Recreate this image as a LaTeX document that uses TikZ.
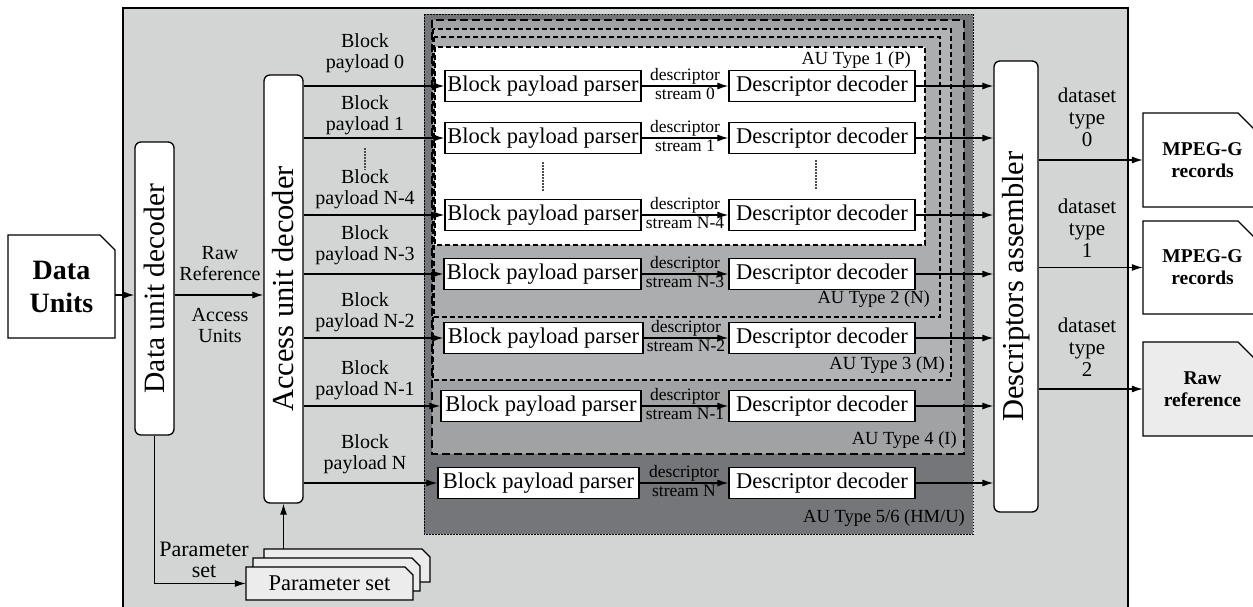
\documentclass[tikz,border=0pt]{standalone}
\usepackage{fontspec}
\setmainfont{Liberation Serif}
\usetikzlibrary{arrows.meta,calc}
\definecolor{bgout}{HTML}{D3D4D4}
\definecolor{aufive}{HTML}{74767A}
\definecolor{aufour}{HTML}{A1A2A3}
\definecolor{authree}{HTML}{B2B3B4}
\definecolor{autwo}{HTML}{ACADAE}
\definecolor{docgray}{HTML}{ECECEC}
\tikzset{
  arr/.style={-{Latex[length=11pt,width=7pt]}, line width=1.2pt},
  bigbox/.style={draw, fill=white, rounded corners=6pt, line width=1.3pt, inner sep=0pt},
  pbox/.style={draw, fill=white, line width=1.3pt, minimum height=31pt, inner sep=0pt, font=\fontsize{22.5}{24}\selectfont},
  lbl/.style={align=center, font=\fontsize{20}{21}\selectfont, inner sep=0pt},
  dslbl/.style={align=center, font=\fontsize{21}{22}\selectfont, inner sep=0pt},
  sm/.style={font=\fontsize{17.5}{18}\selectfont, inner sep=1.5pt},
  aulbl/.style={font=\fontsize{18.5}{19}\selectfont, anchor=east, inner sep=0pt},
  dotsline/.style={line width=1.6pt, dash pattern=on 1.5pt off 1.5pt, black!70},
}
\newcommand\docnode[9]{%
  \draw[line width=1.3pt, fill=#8] (#3,#4) -- ({#5-#7},#4) -- (#5,{#4+#7}) -- (#5,#6) -- (#3,#6) -- cycle;
  \node[#1, minimum width={#5-#3}, minimum height={#6-#4}, inner sep=0pt, align=center] (#2) at ({(#3+#5)/2},{(#4+#6)/2}) {#9};}
\begin{document}
\begin{tikzpicture}[x=1pt,y=-1pt]
\useasboundingbox (0,0) rectangle (1253,606);
% outer box
\draw[fill=bgout, line width=1.3pt] (123,8) rectangle (1128,620);
% AU containers
\draw[fill=aufive, line width=1pt, dash pattern=on 1.5pt off 1.5pt] (424,14) rectangle (973,534);
\draw[fill=aufour, line width=1.2pt, dash pattern=on 8pt off 4pt] (432,20) rectangle (964,454);
\draw[fill=authree, line width=1.1pt, dash pattern=on 5pt off 3pt] (433,29) rectangle (951,380);
\draw[fill=autwo, line width=1.1pt, dash pattern=on 5pt off 3pt] (434,37) rectangle (940,317);
\draw[fill=white, line width=1.1pt, dash pattern=on 5pt off 3pt] (435,47) rectangle (925,245);
\node[aulbl] (l1) at (911,60) {AU Type 1 (P)};
\node[aulbl] (l2) at (930,299) {AU Type 2 (N)};
\node[aulbl] (l3) at (945,365) {AU Type 3 (M)};
\node[aulbl] (l4) at (957,440) {AU Type 4 (I)};
\node[aulbl] (l5) at (965,518) {AU Type 5/6 (HM/U)};
% documents
\docnode{font=\fontsize{28}{33}\selectfont\bfseries}{du}{8}{235}{115}{338}{15}{white}{Data\\Units}
\docnode{font=\fontsize{19.5}{22}\selectfont\bfseries}{m0}{1143}{113}{1262}{207}{24}{white}{MPEG-G\\records}
\docnode{font=\fontsize{19.5}{22}\selectfont\bfseries}{m1}{1143}{221}{1262}{314}{24}{white}{MPEG-G\\records}
\docnode{font=\fontsize{19.5}{22}\selectfont\bfseries}{m2}{1143}{342}{1262}{436}{24}{docgray}{Raw\\reference}
% parameter sets
\docnode{}{ps1}{264}{549}{430}{582}{8}{docgray}{}
\docnode{}{ps2}{253}{558}{420}{591}{8}{docgray}{}
\docnode{font=\fontsize{22.5}{24}\selectfont}{ps3}{246}{567}{413}{600}{8}{docgray}{Parameter set}
% decoders
\node[bigbox, minimum width=39pt, minimum height=293pt] (dud) at (154.5,288.5) {\fontsize{29.5}{30}\selectfont\rotatebox{90}{Data unit decoder}};
\node[bigbox, minimum width=39pt, minimum height=428pt] (aud) at (283.5,289) {\fontsize{30.5}{31}\selectfont\rotatebox{90}{Access unit decoder}};
\node[bigbox, minimum width=44pt, minimum height=451pt] (das) at (1016,286.5) {\fontsize{30.5}{31}\selectfont\rotatebox{90}{Descriptors assembler}};
% left connectors
\coordinate (ra) at (0,295);
\draw[arr] (du.east |- ra) -- (dud.west |- ra);
\draw[arr] (dud.east |- ra) -- (aud.west |- ra);
\node[lbl] (rawlbl) at (220,264) {Raw\\Reference};
\node[lbl] (aulb) at (220,325) {Access\\Units};
\draw[arr] (dud.south) |- (ps3.west);
\node[lbl, font=\fontsize{22}{21}\selectfont] (pslbl) at (204,560) {Parameter\\set};
\draw[arr] (aud.south |- ps1.north) -- (aud.south);
% rows
\foreach \i/\y/\px/\pw/\s in {0/86/543/196/0, 1/138/543/196/1, 2/215/543/196/N-4, 3/274/542.5/197/N-3, 4/338/543.5/199/N-2, 5/406/541/200/N-1, 6/483/538.5/201/N}{
  \node[pbox, minimum width=\pw pt] (p\i) at (\px,\y) {Block payload parser};
  \node[pbox, minimum width=186pt] (d\i) at (822,\y) {Descriptor decoder};
  \draw[arr] (aud.east |- p\i.west) -- (p\i.west);
  \draw[arr] (p\i.east) -- node[sm, above]{descriptor} node[sm, below]{stream \s} (d\i.west);
  \draw[arr] (d\i.east) -- (das.west |- d\i.east);
}
% block payload labels
\node[lbl] (b0) at (365,53) {Block\\payload 0};
\node[lbl] (b1) at (365,115) {Block\\payload 1};
\node[lbl] (b2) at (365,189) {Block\\payload N-4};
\node[lbl] (b3) at (365,245) {Block\\payload N-3};
\node[lbl] (b4) at (365,312) {Block\\payload N-2};
\node[lbl] (b5) at (365,380) {Block\\payload N-1};
\node[lbl] (b6) at (365,454) {Block\\payload N};
% dots
\draw[dotsline] (365,148) -- (365,170);
\draw[dotsline] (543,162) -- (543,191);
\draw[dotsline] (816,160) -- (816,189);
% outputs
\draw[arr] (das.east |- m0.west) -- (m0.west);
\draw[arr] (das.east |- m1.west) -- (m1.west);
\draw[arr] (das.east |- m2.west) -- (m2.west);
\node[dslbl] (ds0) at (1087,117) {dataset\\type\\0};
\node[dslbl] (ds1) at (1087,228) {dataset\\type\\1};
\node[dslbl] (ds2) at (1087,347) {dataset\\type\\2};
\end{tikzpicture}
\end{document}
